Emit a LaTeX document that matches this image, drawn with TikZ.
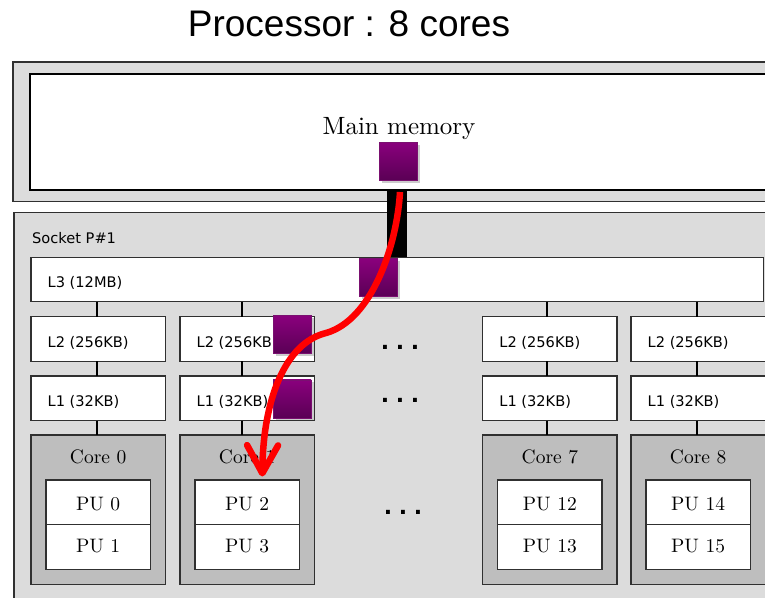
\documentclass[tikz,border=0pt]{standalone}
\usepackage{fontspec}
\newfontfamily\dejavu{DejaVu Sans}
\newfontfamily\arialsans{Liberation Sans}
\newfontfamily\bookserif{lmroman10-regular.otf}
\usetikzlibrary{calc,shadows,arrows.meta}
\definecolor{panelgrey}{HTML}{DCDCDC}
\definecolor{coregrey}{HTML}{BEBEBE}
\definecolor{edge}{HTML}{303030}
\definecolor{cachetop}{HTML}{8A007D}
\definecolor{cachebot}{HTML}{5A0055}
\definecolor{cacheedge}{HTML}{7A1070}

\begin{document}
\begin{tikzpicture}[x=1pt,y=-1pt,
  panel/.style={draw=edge,line width=1.2pt,fill=panelgrey,anchor=north west,inner sep=0,outer sep=0},
  cachebox/.style={draw=edge,line width=1.4pt,fill=white,anchor=north west,inner sep=0,outer sep=0,
                   minimum width=134.3pt,minimum height=44.5pt},
  corebox/.style={draw=edge,line width=1.4pt,fill=coregrey,anchor=north west,inner sep=0,outer sep=0,
                  minimum width=134.3pt,minimum height=149.3pt},
  pubox/.style={draw=edge,line width=1.4pt,fill=white,anchor=north west,inner sep=0,outer sep=0,
                minimum width=104.3pt,minimum height=44.6pt},
  smalllabel/.style={anchor=base west,inner sep=0,font=\dejavu\fontsize{14.6}{17}\selectfont},
  seriflabel/.style={anchor=base,inner sep=0,font=\bookserif\fontsize{19.5}{23}\selectfont},
  link/.style={draw=black,line width=2pt},
  dots/.style={anchor=base,inner sep=0,font=\dejavu\bfseries\fontsize{22}{26}\selectfont},
  cacheline/.style={minimum size=38pt,inner sep=0,draw=cacheedge,line width=0.6pt,
                    top color=cachetop,bottom color=cachebot,
                    drop shadow={shadow xshift=2.5pt,shadow yshift=-2.5pt,fill=black,opacity=0.2}},
]
\clip (0,0) rectangle (765,597);

% title
\node[anchor=base,inner sep=0,font=\arialsans\fontsize{37}{42}\selectfont] (title) at (349,36.7) {Processor : 8 cores};

% main memory
\node[panel,minimum width=790pt,minimum height=139.7pt] (memframe) at (13,62) {};
\node[draw=black,line width=2.7pt,fill=white,anchor=north west,inner sep=0,outer sep=0,
      minimum width=780pt,minimum height=116pt] (mem) at (30,74) {};
\node[anchor=base,inner sep=0,font=\bookserif\fontsize{25}{30}\selectfont] (memlabel) at (399,134.5) {Main memory};

% socket and shared L3
\node[panel,minimum width=790pt,minimum height=420pt] (socket) at (14,212.7) {};
\node[smalllabel] (socketlabel) at (32,243.3) {Socket P\#1};
\node[cachebox,minimum width=732.3pt,minimum height=44.4pt] (l3) at (31,257.3) {};
\node[smalllabel] (l3label) at ($(l3.west)+(16.5,8.3)$) {L3 (12MB)};

% per-core columns: L2, L1, core with its two PUs
\foreach \n/\x/\cx/\core/\pa/\pb in {a/31/97/0/0/1, b/180/242/1/2/3, c/482.7/547/7/12/13, d/631/697/8/14/15}{
  \coordinate (col\n) at (\cx,0);
  \node[cachebox] (l2\n) at (\x,316.7) {};
  \node[smalllabel] (l2\n-lbl) at ($(l2\n.west)+(16.5,8.3)$) {L2 (256KB)};
  \node[cachebox] (l1\n) at (\x,376) {};
  \node[smalllabel] (l1\n-lbl) at ($(l1\n.west)+(16.5,8.3)$) {L1 (32KB)};
  \node[corebox] (core\n) at (\x,435) {};
  \node[seriflabel] (core\n-lbl) at ($(core\n.north)+(0,28.3)$) {Core \core};
  \node[pubox] (pu\n-hi) at ($(core\n.north west)+(15,45)$) {};
  \node[pubox] (pu\n-lo) at (pu\n-hi.south west) {};
  \node[seriflabel] (pu\n-hi-lbl) at ($(pu\n-hi.north)+(0,30.7)$) {PU \pa};
  \node[seriflabel] (pu\n-lo-lbl) at ($(pu\n-lo.north)+(0,28)$) {PU \pb};
  \draw[link] (l3.south -| col\n) -- (l2\n.north -| col\n);
  \draw[link] (l2\n.south -| col\n) -- (l1\n.north -| col\n);
  \draw[link] (l1\n.south -| col\n) -- (core\n.north -| col\n);
}

% elided cores
\node[dots] (dotsl2) at (400,349.4) {.\hspace{6.6pt}.\hspace{6.6pt}.};
\node[dots] (dotsl1) at (400,402.7) {.\hspace{6.6pt}.\hspace{6.6pt}.};
\node[dots] (dotscore) at (403,514.7) {.\hspace{6.6pt}.\hspace{6.6pt}.};

% memory bus
\coordinate (bus) at (397.3,0);
\draw[line width=20pt] (mem.south -| bus) -- (l3.north -| bus);

% cache line copies
\node[cacheline] (linemem) at (398,161) {};
\node[cacheline] (linel3) at (378,277.5) {};
\node[cacheline] (linel2) at (292,334.5) {};
\node[cacheline] (linel1) at (292,398.8) {};

% path of the cache line to PU 2
\coordinate (src) at (400,192);
\coordinate (bend) at (326,333);
\coordinate (tip) at (262.3,476.5);
\draw[red,line width=6.5pt,-{Straight Barb[length=28pt,width=31pt,round]}]
  (src) .. controls (397,245) and (372,320) .. (bend)
        .. controls (285,343) and (263,400) .. (tip);
\end{tikzpicture}
\end{document}
